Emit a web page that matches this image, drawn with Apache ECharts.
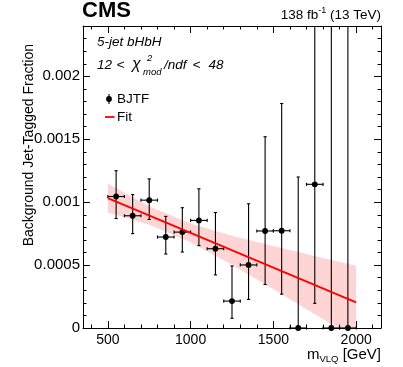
<!DOCTYPE html>
<html>
<head>
<meta charset="utf-8">
<script src="https://cdn.jsdelivr.net/npm/echarts@6/dist/echarts.min.js"></script>
<style>
  html, body { margin: 0; padding: 0; background: #fff; }
  #chart { width: 403px; height: 367px; }
</style>
</head>
<body>
<div id="chart"></div>
<script>
// Background jet-tagged fraction (BJTF) per 100 GeV bin of m_VLQ
const massCenters  = [550, 650, 750, 850, 950, 1050, 1150, 1250, 1350, 1450, 1550, 1650, 1750, 1850, 1950];
const binHalfWidth = 50;
const fraction     = [0.001045, 0.000892, 0.001016, 0.000723, 0.000762, 0.000855, 0.000630, 0.000214, 0.000501, 0.000771, 0.000773, 0, 0.001142, 0, 0];
const fractionUp   = [0.001250, 0.001060, 0.001185, 0.000887, 0.000956, 0.001106, 0.000918, 0.000493, 0.000987, 0.001520, 0.001784, 0.001200, 0.003100, 0.003400, 0.003600];
const fractionDown = [0.000870, 0.000750, 0.000863, 0.000588, 0.000604, 0.000655, 0.000422, 0.000077, 0.000227, 0.000346, 0.000269, 0, 0.000196, 0, 0];

// Linear fit and its uncertainty band
const fitMass   = [500, 2000];
const fitValue  = [0.001032, 0.000204];
const bandMass  = [500, 750, 1000, 1250, 1500, 1750, 2000];
const bandLow   = [0.000918, 0.000821, 0.000682, 0.000502, 0.000308, 0.000110, -0.000090];
const bandHigh  = [0.001146, 0.000967, 0.000830, 0.000734, 0.000651, 0.000572, 0.000494];

// Axis ticks
const xMajorTicks = [500, 1000, 1500, 2000];
const xMinorTicks = [400, 600, 700, 800, 900, 1100, 1200, 1300, 1400, 1600, 1700, 1800, 1900, 2100];
const yMajorTicks = [0, 0.0005, 0.001, 0.0015, 0.002];
const yMinorTicks = [0.0001, 0.0002, 0.0003, 0.0004, 0.0006, 0.0007, 0.0008, 0.0009, 0.0011, 0.0012, 0.0013, 0.0014,
                     0.0016, 0.0017, 0.0018, 0.0019, 0.0021, 0.0022, 0.0023];

const FONT = '"Liberation Sans", Arial, Helvetica, sans-serif';
const X_MIN = 350, X_MAX = 2150, Y_MIN = 0, Y_MAX = 0.0024;

const ctx = document.createElement('canvas').getContext('2d');
function fontOf(p) {
  return (p.italic ? 'italic ' : '') + (p.bold ? 'bold ' : '') + p.size + 'px ' + FONT;
}
function widthOf(p) { ctx.font = fontOf(p); return ctx.measureText(p.t).width; }

// Lay out a run of text pieces (with sub/superscripts) left to right;
// a piece with an explicit "at" is placed at that x instead of following the previous one
function textRun(x, y, parts, anchorRight) {
  let total = 0;
  parts.forEach(p => { if (p.advance !== false) total += widthOf(p); });
  let cx = anchorRight ? x - total : x;
  const out = [];
  parts.forEach(p => {
    if (p.at !== undefined) cx = p.at;
    out.push({
      type: 'text', x: cx + (p.dx || 0), y: y + (p.dy || 0), z: 100,
      style: { text: p.t, font: fontOf(p), fill: p.color || '#000', verticalAlign: 'middle', align: 'left' }
    });
    if (p.advance !== false) cx += widthOf(p);
  });
  return out;
}

// Keep the part of a polygon that lies above a horizontal pixel line (y <= yMax)
function clipBelow(pts, yMax) {
  const out = [];
  for (let i = 0; i < pts.length; i++) {
    const a = pts[i], b = pts[(i + 1) % pts.length];
    const aIn = a[1] <= yMax, bIn = b[1] <= yMax;
    if (aIn) out.push(a);
    if (aIn !== bIn) {
      const t = (yMax - a[1]) / (b[1] - a[1]);
      out.push([a[0] + t * (b[0] - a[0]), yMax]);
    }
  }
  return out;
}

const chart = echarts.init(document.getElementById('chart'), null, { renderer: 'canvas' });

const pointData = massCenters.map((m, i) => [m, fraction[i], fractionDown[i], fractionUp[i]]);
const fitData  = fitMass.map((m, i) => [m, fitValue[i]]);

function renderBand(params, api) {
  const cs = params.coordSys;
  const upper = bandMass.map((m, i) => api.coord([m, bandHigh[i]]));
  const lower = bandMass.map((m, i) => api.coord([m, bandLow[i]])).reverse();
  const pts = clipBelow(upper.concat(lower), cs.y + cs.height);
  return { type: 'polygon', shape: { points: pts }, style: { fill: 'rgba(255, 0, 0, 0.17)' } };
}

function renderPoint(params, api) {
  const m = api.value(0), v = api.value(1), lo = api.value(2), hi = api.value(3);
  const cs = params.coordSys;
  const c = api.coord([m, v]);
  const pLo = api.coord([m, lo]);
  const pHi = api.coord([m, hi]);
  const pL = api.coord([m - binHalfWidth, v]);
  const pR = api.coord([m + binHalfWidth, v]);
  const top = Math.max(pHi[1], cs.y);
  const bottom = Math.min(pLo[1], cs.y + cs.height);
  const st = { stroke: '#000', lineWidth: 1.1 };
  const cap = 1.6;
  const kids = [
    { type: 'line', shape: { x1: c[0], y1: top, x2: c[0], y2: bottom }, style: st },
    { type: 'line', shape: { x1: pL[0], y1: c[1], x2: pR[0], y2: c[1] }, style: st },
    { type: 'line', shape: { x1: pL[0], y1: c[1] - cap, x2: pL[0], y2: c[1] + cap }, style: st },
    { type: 'line', shape: { x1: pR[0], y1: c[1] - cap, x2: pR[0], y2: c[1] + cap }, style: st }
  ];
  if (pHi[1] > cs.y) kids.push({ type: 'line', shape: { x1: c[0] - cap, y1: pHi[1], x2: c[0] + cap, y2: pHi[1] }, style: st });
  if (lo > 0) kids.push({ type: 'line', shape: { x1: c[0] - cap, y1: pLo[1], x2: c[0] + cap, y2: pLo[1] }, style: st });
  kids.push({ type: 'circle', shape: { cx: c[0], cy: c[1], r: 2.9 }, style: { fill: '#000' } });
  return { type: 'group', children: kids };
}

function xAxisDef(grid, pos, ticks, len, labels, line) {
  return {
    type: 'value', gridIndex: grid, position: pos, min: X_MIN, max: X_MAX,
    axisLine: { show: line, onZero: false, lineStyle: { color: '#000', width: 1 } },
    axisTick: { show: true, inside: true, length: len, customValues: ticks, lineStyle: { color: '#000', width: 1 } },
    axisLabel: labels ? {
      show: true, customValues: ticks, color: '#000', fontSize: 14, fontFamily: FONT, margin: 5,
      formatter: v => String(v)
    } : { show: false },
    splitLine: { show: false }, minorTick: { show: false }
  };
}
function yAxisDef(grid, pos, ticks, len, labels, line) {
  return {
    type: 'value', gridIndex: grid, position: pos, min: Y_MIN, max: Y_MAX,
    axisLine: { show: line, onZero: false, lineStyle: { color: '#000', width: 1 } },
    axisTick: { show: true, inside: true, length: len, customValues: ticks, lineStyle: { color: '#000', width: 1 } },
    axisLabel: labels ? {
      show: true, customValues: ticks, color: '#000', fontSize: 15, fontFamily: FONT, margin: 3,
      formatter: v => String(+v.toFixed(4))
    } : { show: false },
    splitLine: { show: false }, minorTick: { show: false }
  };
}

const gridBox = { left: 83, right: 22, top: 26, bottom: 39, containLabel: false, outerBoundsMode: 'none' };

const graphics = [].concat(
  textRun(82, 11, [{ t: 'CMS', size: 22, bold: true }]),
  textRun(381, 15, [
    { t: '138 fb', size: 13.5 },
    { t: '-1', size: 9, dy: -4.5 },
    { t: ' (13 TeV)', size: 13.5 }
  ], true),
  textRun(97, 42, [{ t: '5-jet bHbH', size: 13.5, italic: true }]),
  textRun(97, 65, [
    { t: '12', size: 13.5, italic: true },
    { t: '<', size: 13.5, italic: true, at: 116.5 },
    { t: '\u03c7', size: 16, italic: true, at: 132 },
    { t: '2', size: 9.5, italic: true, dy: -6.5, at: 147, advance: false },
    { t: 'mod', size: 9.5, italic: true, dy: 7, at: 143 },
    { t: '/ndf', size: 13.5, italic: true, at: 164 },
    { t: '<', size: 13.5, italic: true, at: 192.5 },
    { t: '48', size: 13.5, italic: true, at: 208.5 }
  ]),
  textRun(117, 99, [{ t: 'BJTF', size: 13.5 }]),
  textRun(117, 117, [{ t: 'Fit', size: 13.5 }]),
  textRun(381, 355, [
    { t: 'm', size: 15 },
    { t: 'VLQ', size: 9.5, dy: 4.5 },
    { t: ' [GeV]', size: 15 }
  ], true),
  [
    // legend keys
    { type: 'line', z: 100, shape: { x1: 109, y1: 94, x2: 109, y2: 104 }, style: { stroke: '#000', lineWidth: 1.1 } },
    { type: 'circle', z: 100, shape: { cx: 109, cy: 99, r: 2.9 }, style: { fill: '#000' } },
    { type: 'line', z: 100, shape: { x1: 105, y1: 117, x2: 114.5, y2: 117 }, style: { stroke: '#ff0000', lineWidth: 1.8 } },
    // y-axis title
    {
      type: 'text', z: 100, x: 29, y: 44, rotation: Math.PI / 2,
      style: { text: 'Background Jet-Tagged Fraction', font: '14px ' + FONT, fill: '#000', align: 'right', verticalAlign: 'middle' }
    }
  ]
);

chart.setOption({
  animation: false,
  backgroundColor: '#fff',
  grid: [Object.assign({}, gridBox), Object.assign({}, gridBox)],
  xAxis: [
    xAxisDef(0, 'bottom', xMajorTicks, 7, true, true),
    xAxisDef(0, 'top', xMajorTicks, 7, false, true),
    xAxisDef(1, 'bottom', xMinorTicks, 3.5, false, false),
    xAxisDef(1, 'top', xMinorTicks, 3.5, false, false)
  ],
  yAxis: [
    yAxisDef(0, 'left', yMajorTicks, 7, true, true),
    yAxisDef(0, 'right', yMajorTicks, 7, false, true),
    yAxisDef(1, 'left', yMinorTicks, 3.5, false, false),
    yAxisDef(1, 'right', yMinorTicks, 3.5, false, false)
  ],
  series: [
    {
      type: 'custom', name: 'band', xAxisIndex: 0, yAxisIndex: 0, data: [[bandMass[0], bandHigh[0]]],
      renderItem: renderBand, encode: { x: 0, y: 1 }, silent: true
    },
    {
      type: 'line', name: 'Fit', xAxisIndex: 0, yAxisIndex: 0, data: fitData,
      symbol: 'none', lineStyle: { color: '#ff0000', width: 1.8 }, silent: true
    },
    {
      type: 'custom', name: 'BJTF', xAxisIndex: 0, yAxisIndex: 0, data: pointData,
      renderItem: renderPoint, encode: { x: 0, y: 1 }, silent: true
    }
  ],
  graphic: graphics
});
</script>
</body>
</html>
